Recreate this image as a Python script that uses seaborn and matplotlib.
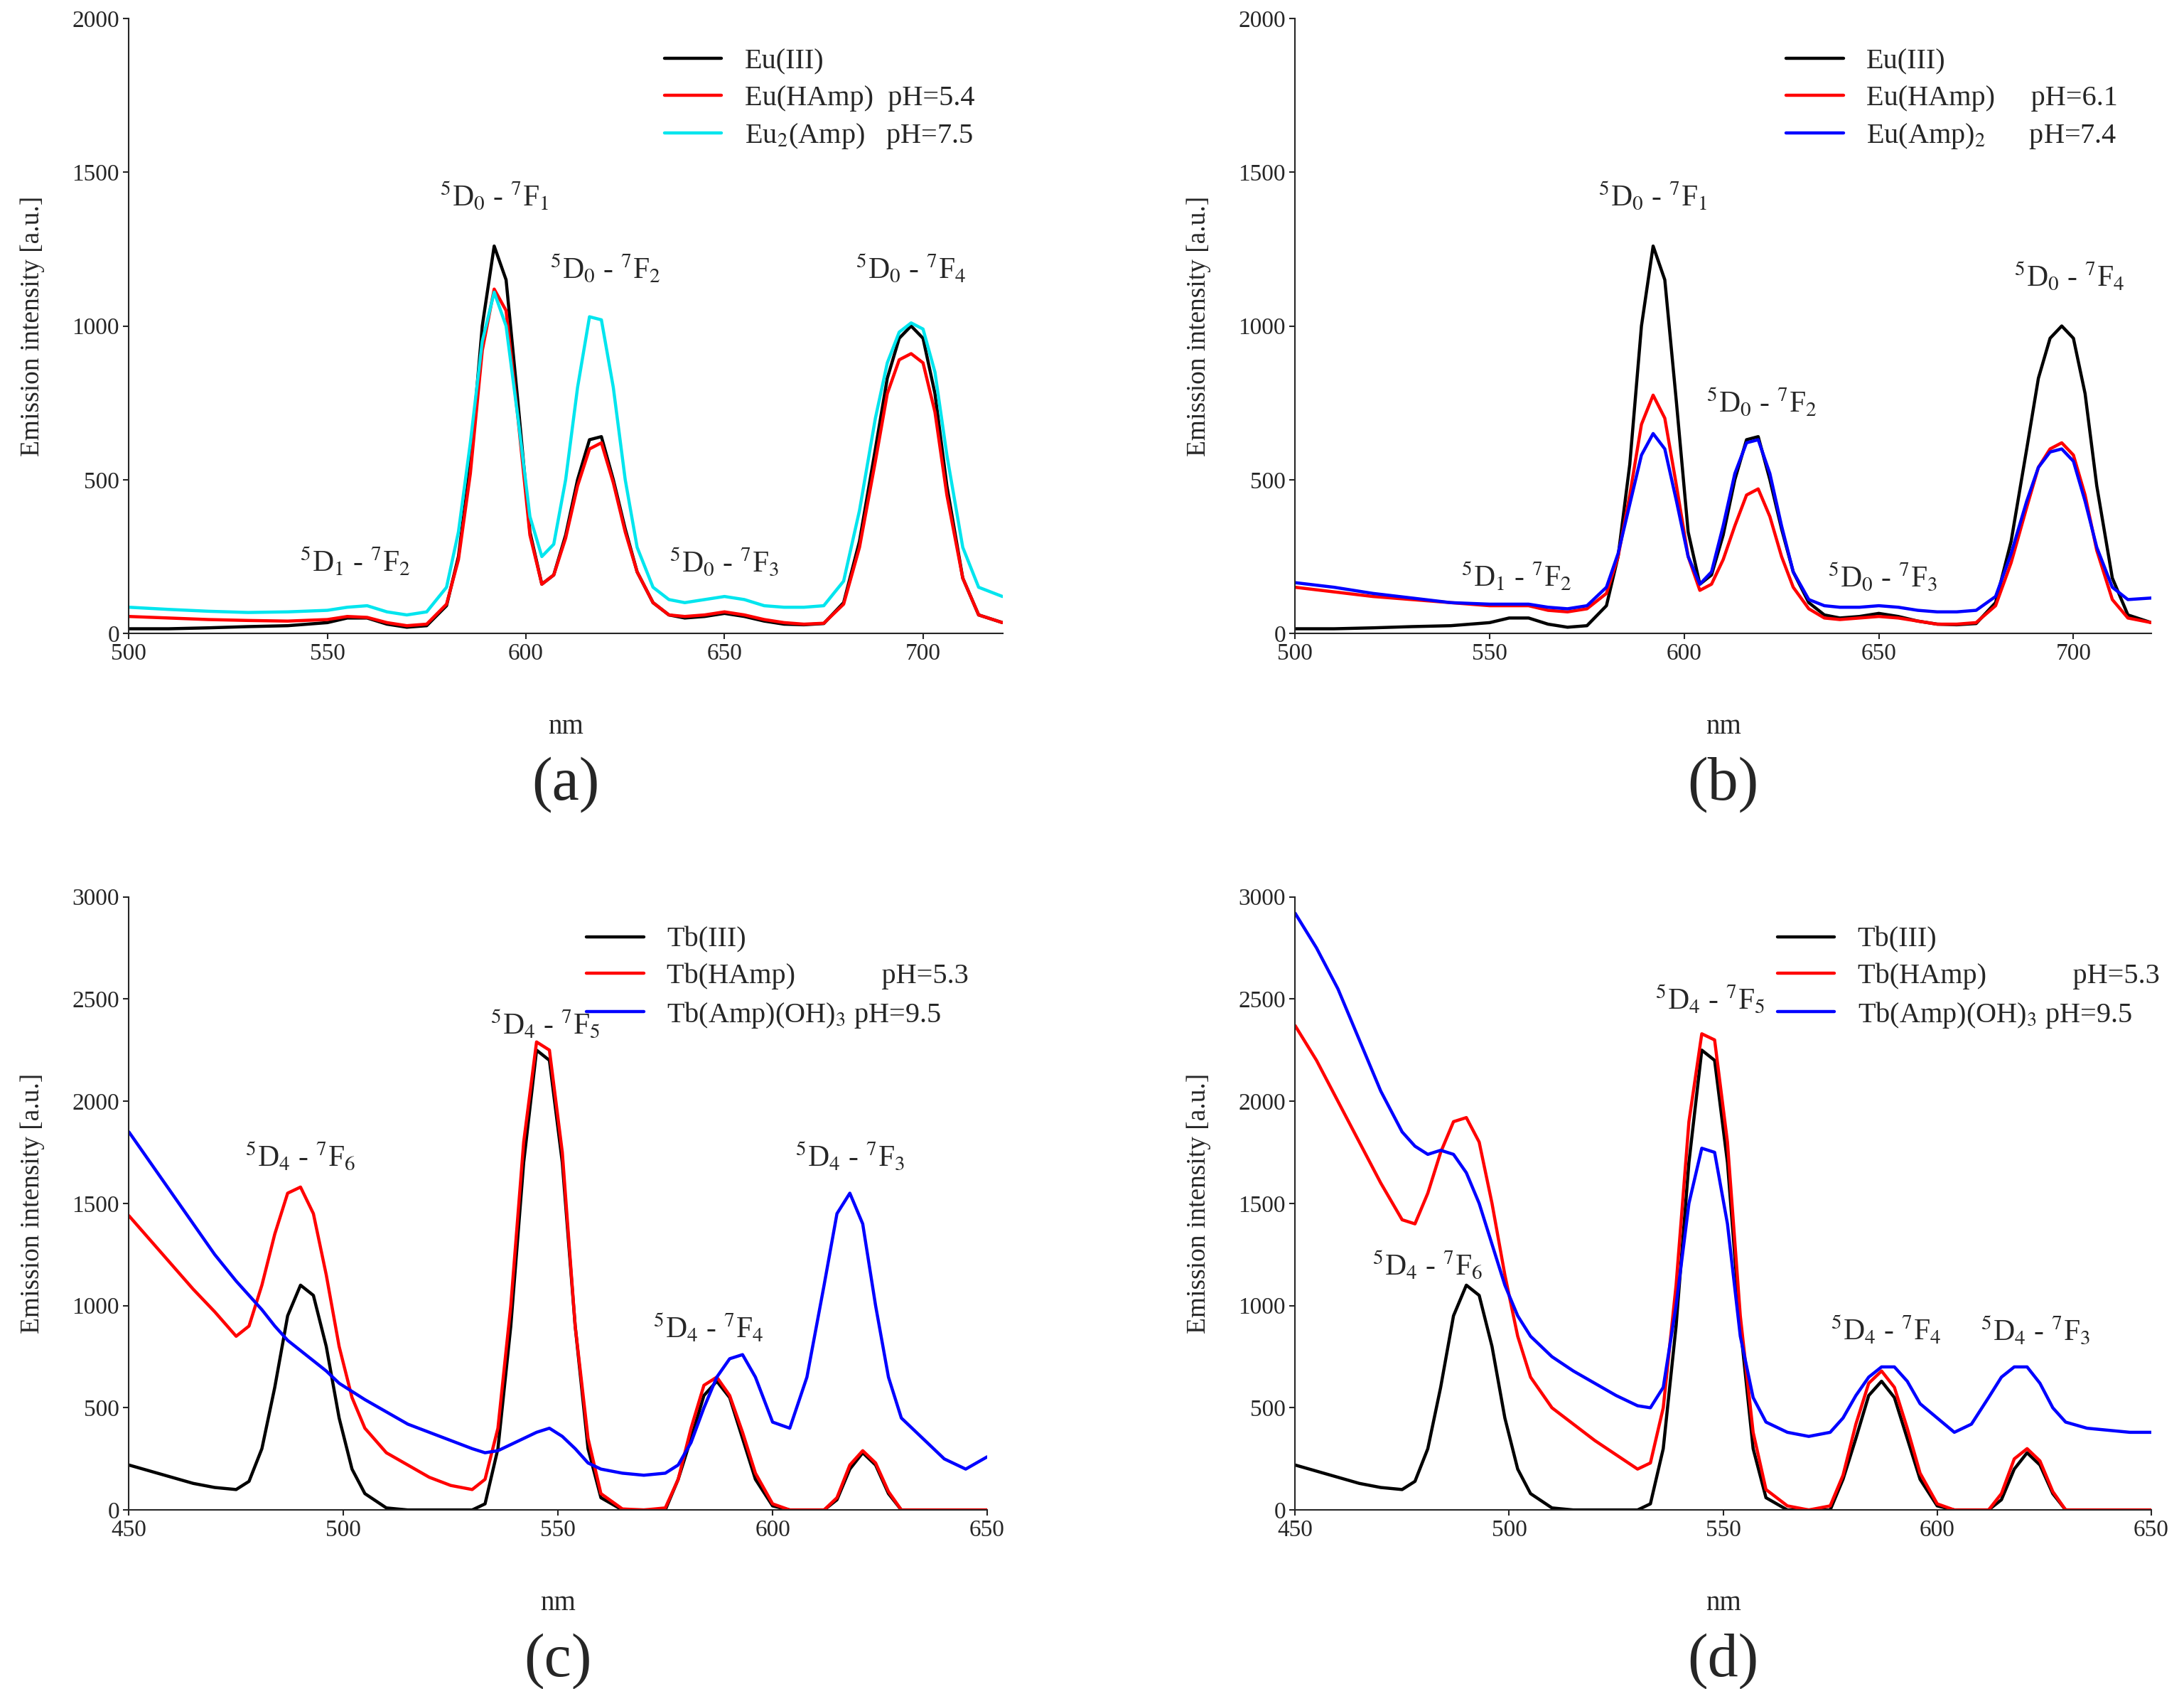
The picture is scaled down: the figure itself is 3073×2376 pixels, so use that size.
import matplotlib
matplotlib.use("Agg")
import matplotlib.pyplot as plt
import seaborn as sns

sns.set_style("ticks")
plt.rcParams["font.family"] = "Liberation Serif"
plt.rcParams["mathtext.fontset"] = "stix"

# ---------------- Eu data (panels a, b) ----------------
x_eu = [500,510,520,530,540,550,555,560,565,570,575,580,583,586,589,592,595,598,601,604,607,610,613,616,619,622,625,628,632,636,640,645,650,655,660,665,670,675,680,684,688,691,694,697,700,703,706,710,714,720]
eu_iii = [15,15,18,22,25,35,50,50,30,20,25,90,250,550,1000,1260,1150,750,330,160,190,320,500,630,640,500,340,200,100,60,50,55,65,55,40,30,28,32,100,300,600,830,960,1000,960,780,480,180,60,35]
eu_hamp_a = [55,50,45,42,40,45,55,52,35,25,30,95,240,520,920,1120,1050,700,320,160,190,310,480,600,620,490,330,200,100,60,55,60,70,60,45,35,30,33,95,280,560,780,890,910,880,720,450,180,60,35]
eu2_amp = [85,78,72,68,70,75,85,90,70,60,70,150,330,620,950,1110,1000,700,380,250,290,500,800,1030,1020,800,500,280,150,110,100,110,120,110,90,85,85,90,170,400,700,880,980,1010,990,850,580,280,150,120]
eu_hamp_b = [150,135,120,110,100,90,90,90,75,70,80,130,250,450,680,775,700,480,250,140,160,240,350,450,470,380,250,150,80,50,45,50,55,50,40,30,30,35,90,230,410,540,600,620,580,450,270,110,50,35]
eu_amp2 = [165,150,130,115,100,95,95,95,85,80,90,150,260,420,580,650,600,430,250,160,200,350,520,620,630,520,350,200,110,90,85,85,90,85,75,70,70,75,120,260,430,540,590,600,560,430,280,150,110,115]

# ---------------- Tb data (panels c, d) ----------------
x_tb = [450,455,460,465,470,475,478,481,484,487,490,493,496,499,502,505,510,515,520,525,530,533,536,539,542,545,548,551,554,557,560,565,570,575,578,581,584,587,590,593,596,600,604,608,612,615,618,621,624,627,630,635,640,645,650]
tb_iii = [220,190,160,130,110,100,140,300,600,950,1100,1050,800,450,200,80,10,0,0,0,0,30,300,900,1700,2250,2200,1700,900,300,60,0,0,0,150,350,560,630,550,350,150,20,0,0,0,50,200,280,220,80,0,0,0,0,0]
tb_hamp_c = [1440,1320,1200,1080,970,850,900,1100,1350,1550,1580,1450,1150,800,550,400,280,220,160,120,100,150,400,1000,1800,2290,2250,1750,900,350,80,5,0,10,150,400,610,650,560,380,180,30,0,0,0,60,220,290,230,90,0,0,0,0,0]
tb_amp_c = [1850,1700,1550,1400,1250,1120,1050,980,900,830,780,730,680,620,580,540,480,420,380,340,300,280,290,320,350,380,400,360,300,230,200,180,170,180,220,330,500,650,740,760,650,430,400,650,1100,1450,1550,1400,1000,650,450,350,250,200,260]
tb_hamp_d = [2370,2200,2000,1800,1600,1420,1400,1550,1750,1900,1920,1800,1500,1150,850,650,500,420,340,270,200,230,500,1100,1900,2330,2300,1800,950,380,100,20,0,20,170,420,620,680,600,400,180,30,0,0,0,80,250,300,240,90,0,0,0,0,0]
tb_amp_d = [2920,2750,2550,2300,2050,1850,1780,1740,1760,1740,1650,1500,1300,1100,950,850,750,680,620,560,510,500,600,1000,1500,1770,1750,1400,850,550,430,380,360,380,450,560,650,700,700,630,520,450,380,420,550,650,700,700,620,500,430,400,390,380,380]

fig = plt.figure(figsize=(30.73, 23.76), dpi=100)
axes = [fig.add_axes([0.059, 0.625, 0.400, 0.364]),
        fig.add_axes([0.593, 0.625, 0.392, 0.364]),
        fig.add_axes([0.059, 0.106, 0.393, 0.363]),
        fig.add_axes([0.593, 0.106, 0.392, 0.363])]

lw = 3.2
series = [
    (x_eu, [(eu_iii, "black", "Eu(III)"),
            (eu_hamp_a, "red", "Eu(HAmp)  pH=5.4"),
            (eu2_amp, "#00E5EE", r"Eu$_2$(Amp)   pH=7.5")]),
    (x_eu, [(eu_iii, "black", "Eu(III)"),
            (eu_hamp_b, "red", "Eu(HAmp)     pH=6.1"),
            (eu_amp2, "blue", r"Eu(Amp)$_2$      pH=7.4")]),
    (x_tb, [(tb_iii, "black", "Tb(III)"),
            (tb_hamp_c, "red", "Tb(HAmp)            pH=5.3"),
            (tb_amp_c, "blue", r"Tb(Amp)(OH)$_3$ pH=9.5")]),
    (x_tb, [(tb_iii, "black", "Tb(III)"),
            (tb_hamp_d, "red", "Tb(HAmp)            pH=5.3"),
            (tb_amp_d, "blue", r"Tb(Amp)(OH)$_3$ pH=9.5")]),
]

letters = ["(a)", "(b)", "(c)", "(d)"]
legend_anchor = [(0.6, 0.97), (0.56, 0.97), (0.52, 0.97), (0.55, 0.97)]
for i, (ax, (xs, lst)) in enumerate(zip(axes, series)):
    for ys, c, lab in lst:
        sns.lineplot(x=xs, y=ys, color=c, lw=lw, label=lab, ax=ax, sort=False, estimator=None)
    ax.legend(loc="upper left", bbox_to_anchor=legend_anchor[i], frameon=False,
              fontsize=29, handlelength=2.0, labelspacing=0.35, borderaxespad=0)
    sns.despine(ax=ax)
    ax.set_ylabel("Emission intensity [a.u.]", fontsize=27, labelpad=28)
    ax.set_xlabel("nm", fontsize=28, labelpad=50)
    ax.tick_params(labelsize=24, width=1.5, length=6)
    for s in ax.spines.values():
        s.set_linewidth(1.5)
    ax.text(0.5, -0.2, letters[i], transform=ax.transAxes, ha="center", va="top", fontsize=62)

for ax in axes[:2]:
    ax.set_xlim(500, 720)
    ax.set_ylim(0, 2000)
    ax.set_xticks([500, 550, 600, 650, 700])
    ax.set_yticks([0, 500, 1000, 1500, 2000])
for ax in axes[2:]:
    ax.set_xlim(450, 650)
    ax.set_ylim(0, 3000)
    ax.set_xticks([450, 500, 550, 600, 650])
    ax.set_yticks(range(0, 3001, 500))

def tr(a, b, c, d):
    return r"$^{%s}$D$_{%s}$ - $^{%s}$F$_{%s}$" % (a, b, c, d)

fs = 30
annots = [
    (0, 592, 1370, tr(5,0,7,1)), (0, 620, 1135, tr(5,0,7,2)), (0, 697, 1135, tr(5,0,7,4)),
    (0, 557, 180, tr(5,1,7,2)), (0, 650, 180, tr(5,0,7,3)),
    (1, 592, 1370, tr(5,0,7,1)), (1, 620, 700, tr(5,0,7,2)), (1, 699, 1110, tr(5,0,7,4)),
    (1, 557, 130, tr(5,1,7,2)), (1, 651, 130, tr(5,0,7,3)),
    (2, 490, 1650, tr(5,4,7,6)), (2, 547, 2300, tr(5,4,7,5)), (2, 585, 810, tr(5,4,7,4)),
    (2, 618, 1650, tr(5,4,7,3)),
    (3, 481, 1120, tr(5,4,7,6)), (3, 547, 2420, tr(5,4,7,5)), (3, 588, 800, tr(5,4,7,4)),
    (3, 623, 800, tr(5,4,7,3)),
]
for i, x, y, t in annots:
    axes[i].text(x, y, t, ha="center", va="bottom", fontsize=fs)

fig.savefig("out.png", dpi=100)
